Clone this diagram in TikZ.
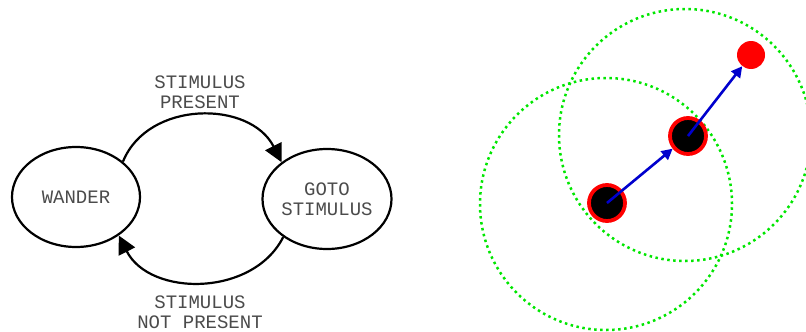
\documentclass[tikz,border=0pt]{standalone}
\usepackage{fontspec}
\newfontfamily\monofont{Liberation Mono}
\usetikzlibrary{shapes.geometric,arrows.meta}
\definecolor{txt}{RGB}{75,75,75}
\definecolor{dotgreen}{RGB}{0,230,0}
\definecolor{arrowblue}{RGB}{0,0,205}
\definecolor{ringred}{RGB}{255,0,0}
\tikzset{
  state/.style={ellipse, draw=black, line width=2.2pt, minimum width=128pt, minimum height=100pt, inner sep=0pt, align=center, font=\monofont\fontsize{19}{20.5}\selectfont, text=txt},
  lbl/.style={align=center, font=\monofont\fontsize{19}{20.5}\selectfont, text=txt},
  trans/.style={line width=2.2pt, -{Triangle[length=18pt,width=18pt]}},
  sensorring/.style={circle, draw=dotgreen, line width=2.5pt, dash pattern=on 2.5pt off 3.5pt, inner sep=0pt},
  robot/.style={circle, fill=black, draw=ringred, line width=3.8pt, minimum size=36pt, inner sep=0pt},
  goal/.style={circle, fill=ringred, minimum size=28pt, inner sep=0pt},
  move/.style={draw=arrowblue, line width=2.6pt, -{Triangle[length=11pt,width=11pt]}}
}
\begin{document}
\begin{tikzpicture}[x=1pt,y=-1pt]
\useasboundingbox (0,0) rectangle (806,332);
% state diagram
\node[state] (wander) at (76,197) {WANDER};
\node[state] (goto) at (327,199) {GOTO\\STIMULUS};
\node[lbl] (lp) at (200,92) {STIMULUS\\PRESENT};
\node[lbl] (lnp) at (200,312) {STIMULUS\\NOT PRESENT};
\draw[trans] (wander.37) .. controls (148,100) and (250,100) .. (goto.141);
\draw[trans] (goto.221) .. controls (253,297) and (150,297) .. (wander.318);
% right panel
\node[sensorring, minimum size=252pt] (c1) at (606,204) {};
\node[sensorring, minimum size=252pt] (c2) at (685,135) {};
\node[robot] (r1) at (607,203) {};
\node[robot] (r2) at (688,136) {};
\node[goal] (g) at (751,55) {};
\draw[move] (r1.center) -- (r2);
\draw[move] (r2.center) -- (g);
\end{tikzpicture}
\end{document}
